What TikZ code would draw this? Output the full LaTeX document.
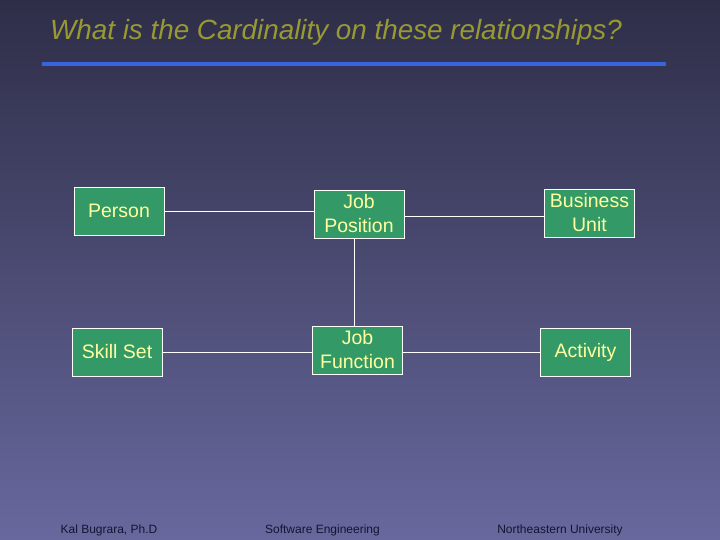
\documentclass[tikz,border=0pt]{standalone}
\usepackage{fontspec}
\setmainfont{Liberation Sans}
\usetikzlibrary{calc,positioning}
\definecolor{bgtop}{RGB}{46,46,72}
\definecolor{bgbottom}{RGB}{104,104,158}
\definecolor{boxgreen}{RGB}{51,153,102}
\definecolor{paleyellow}{RGB}{255,255,160}
\definecolor{titleolive}{RGB}{153,153,51}
\definecolor{ruleblue}{RGB}{58,100,222}
\definecolor{footnavy}{RGB}{20,20,50}

\begin{document}
\begin{tikzpicture}[x=1pt,y=-1pt]

\tikzset{entity/.style={font=\fontsize{19.5}{24}\selectfont,fill=boxgreen,draw=white,line width=0.8pt,text=paleyellow,inner sep=0pt,minimum width=90pt,minimum height=48pt,align=center,shape=rectangle},
link/.style={draw=white,line width=0.8pt},
footer/.style={font=\fontsize{12}{14}\selectfont,text=footnavy,anchor=base}}

% Background
\shade[top color=bgtop,bottom color=bgbottom] (0,0) rectangle (720,540);
\useasboundingbox (0,0) rectangle (720,540);

% Title
\node[anchor=base west,inner sep=0pt,text=titleolive,font=\fontsize{27.8}{32}\selectfont\itshape] (title) at (50,40) {What is the Cardinality on these relationships?};
\fill[ruleblue] (42,62) rectangle (666,66);

% Entities
\node[entity] (person) at (119,211) {Person};
\node[entity] (jobpos) at (359,214) {Job\\Position};
\node[entity] (busunit) at (589.5,213) {Business\\Unit};
\node[entity] (skillset) at (117,352) {Skill Set};
\node[entity] (jobfunc) at (357.5,350) {Job\\Function};
\node[entity] (activity) at (585.5,352) {Activity};

% Links
\draw[link] (person.east) -- (person.east -| jobpos.west);
\draw[link] ($(jobpos.east)+(0,2)$) -- ($(jobpos.east -| busunit.west)+(0,2)$);
\draw[link] ($(jobpos.south)+(-5,0)$) -- ($(jobpos.south |- jobfunc.north)+(-5,0)$);
\draw[link] (skillset.east) -- (skillset.east -| jobfunc.west);
\draw[link] ($(jobfunc.east)+(0,2)$) -- ($(jobfunc.east -| activity.west)+(0,2)$);

% Footer
\node[footer] (author) at (109,533) {Kal Bugrara, Ph.D};
\node[footer] (course) at (322.5,533) {Software Engineering};
\node[footer] (school) at (560,533) {Northeastern University};

\end{tikzpicture}
\end{document}
